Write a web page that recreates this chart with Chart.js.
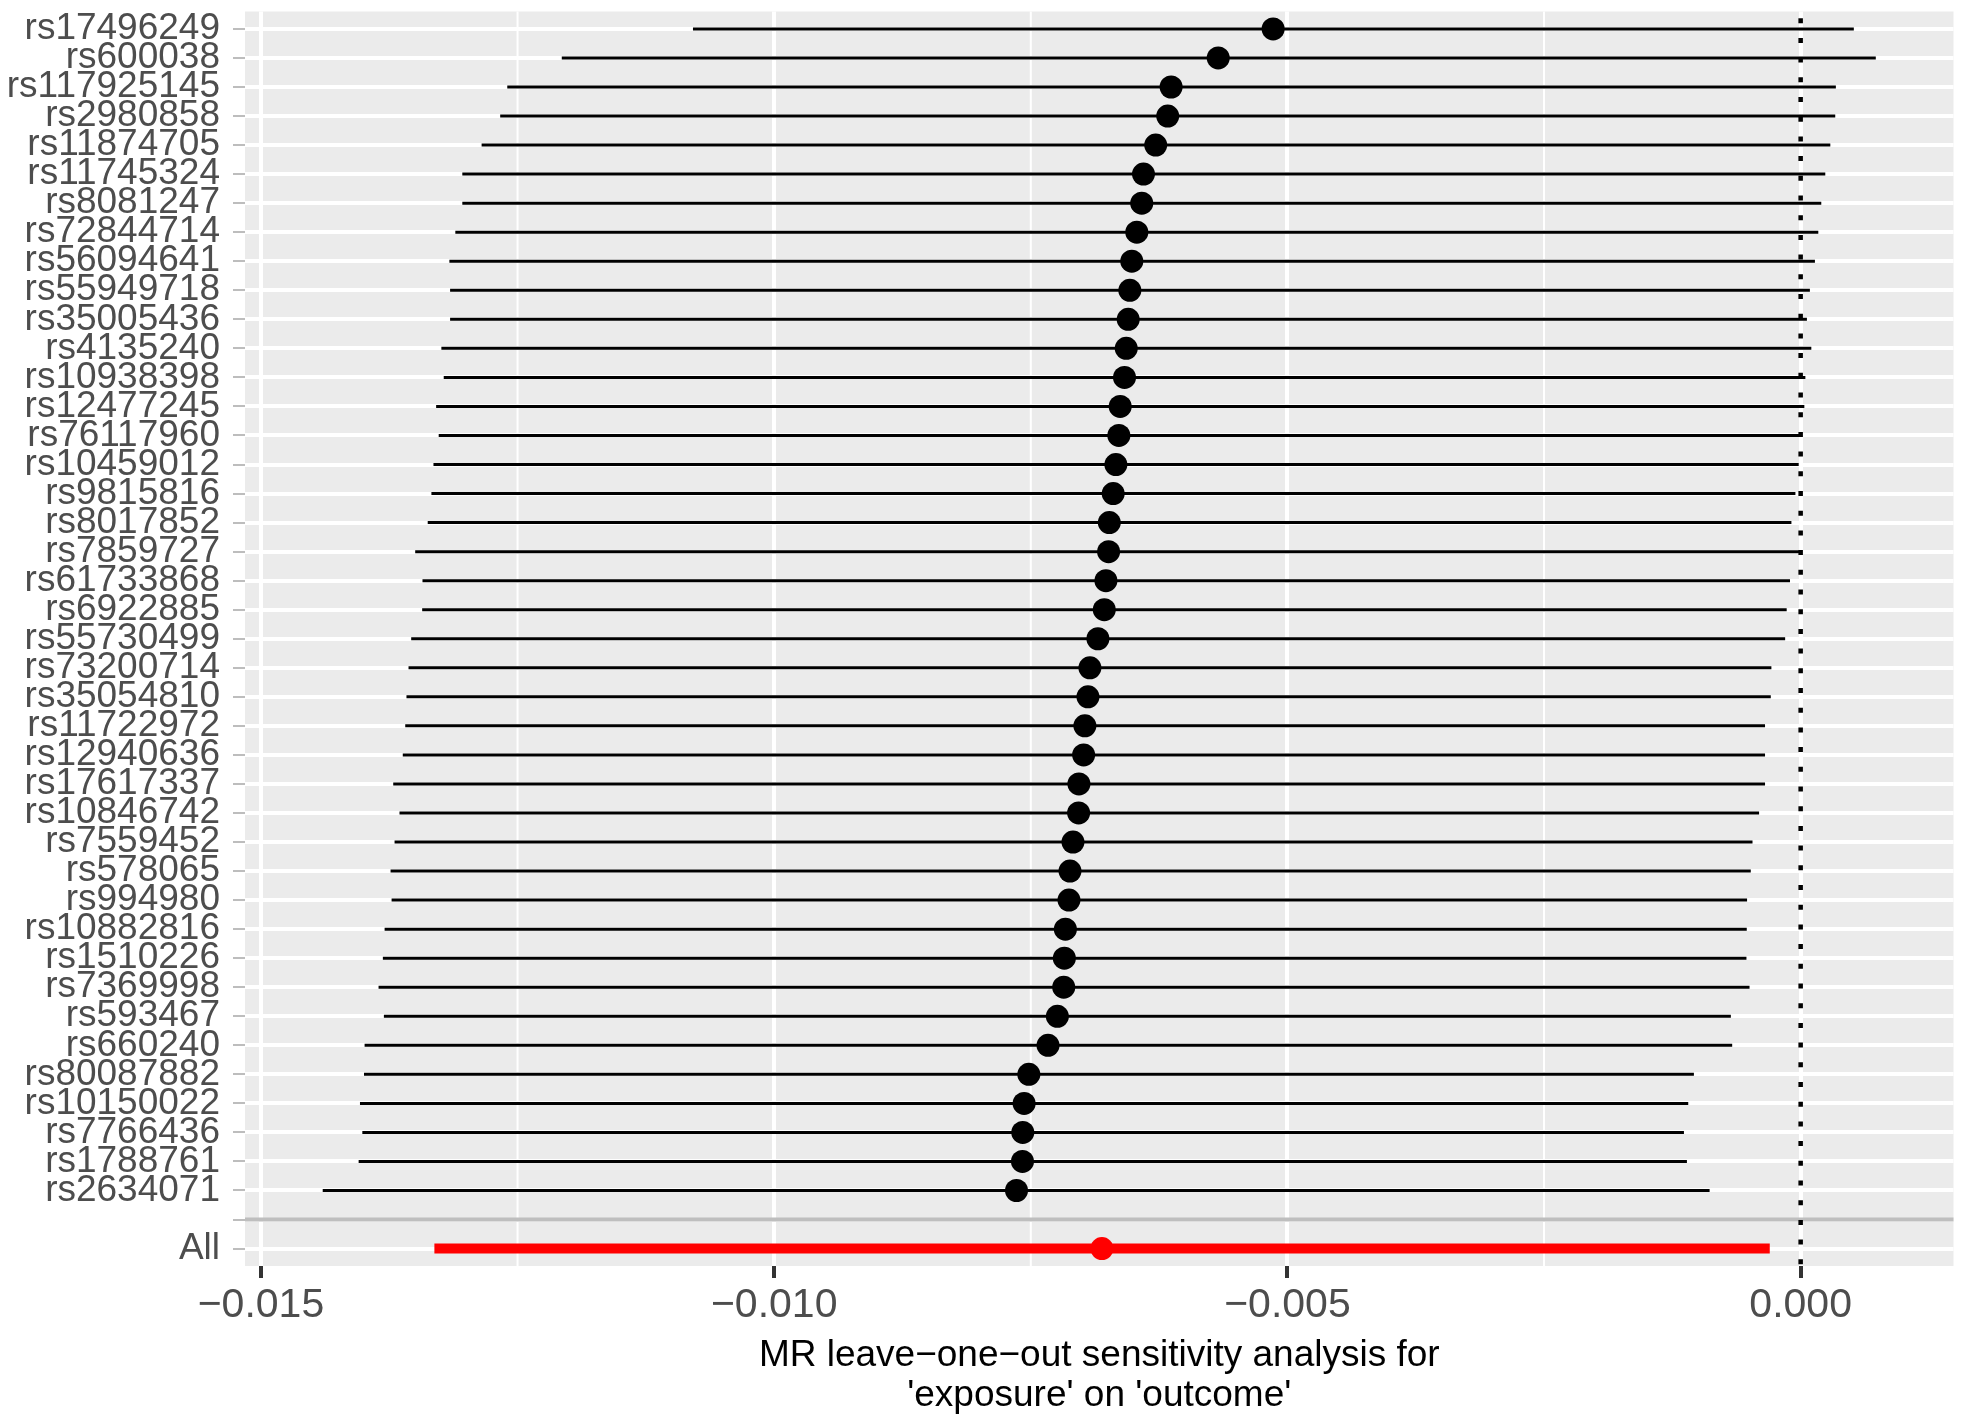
<!DOCTYPE html>
<html>
<head>
<meta charset="utf-8">
<script src="https://cdn.jsdelivr.net/npm/chart.js@4.4.1/dist/chart.umd.min.js"></script>
<style>
html, body { margin: 0; padding: 0; background: #ffffff; }
#wrap { width: 1965px; height: 1423px; }
</style>
</head>
<body>
<div id="wrap"><canvas id="myChart" width="1965" height="1423"></canvas></div>
<script>
// leave-one-out results, top row first
var snps = ["rs17496249", "rs600038", "rs117925145", "rs2980858", "rs11874705", "rs11745324", "rs8081247",
    "rs72844714", "rs56094641", "rs55949718", "rs35005436", "rs4135240", "rs10938398", "rs12477245",
    "rs76117960", "rs10459012", "rs9815816", "rs8017852", "rs7859727", "rs61733868", "rs6922885",
    "rs55730499", "rs73200714", "rs35054810", "rs11722972", "rs12940636", "rs17617337", "rs10846742",
    "rs7559452", "rs578065", "rs994980", "rs10882816", "rs1510226", "rs7369998", "rs593467", "rs660240",
    "rs80087882", "rs10150022", "rs7766436", "rs1788761", "rs2634071"];
var estimates = [-0.005139, -0.005674, -0.006133, -0.006166, -0.006283, -0.006402, -0.006419, -0.006467,
    -0.006516, -0.006535, -0.006551, -0.006570, -0.006587, -0.006629, -0.006642, -0.006671, -0.006697,
    -0.006735, -0.006742, -0.006768, -0.006784, -0.006846, -0.006924, -0.006943, -0.006973, -0.006985,
    -0.007031, -0.007034, -0.007089, -0.007118, -0.007128, -0.007163, -0.007173, -0.007179, -0.007241,
    -0.007332, -0.007519, -0.007565, -0.007578, -0.007581, -0.007639];
var lower = [-0.010791, -0.012069, -0.012600, -0.012669, -0.012850, -0.013038, -0.013038, -0.013106,
    -0.013164, -0.013157, -0.013157, -0.013242, -0.013219, -0.013293, -0.013268, -0.013319, -0.013339,
    -0.013375, -0.013497, -0.013426, -0.013429, -0.013536, -0.013562, -0.013582, -0.013594, -0.013618,
    -0.013711, -0.013650, -0.013698, -0.013737, -0.013727, -0.013795, -0.013812, -0.013854, -0.013802,
    -0.013990, -0.013996, -0.014035, -0.014012, -0.014048, -0.014398];
var upper = [0.000518, 0.000732, 0.000343, 0.000337, 0.000289, 0.000240, 0.000201, 0.000172,
    0.000139, 0.000090, 0.000061, 0.000104, 0.000046, 0.000036, 0.000010, -0.000019, -0.000051,
    -0.000090, 0.000010, -0.000104, -0.000136, -0.000151, -0.000285, -0.000291, -0.000347, -0.000347,
    -0.000347, -0.000405, -0.000469, -0.000486, -0.000522, -0.000525, -0.000528, -0.000498, -0.000680,
    -0.000667, -0.001040, -0.001095, -0.001137, -0.001108, -0.000887];
var allEstimate = -0.006807, allLower = -0.013310, allUpper = -0.000301;

var rowLabels = snps.concat(["", "All"]);
var blankRow = snps.length;
var allRow = snps.length + 1;
var xTicks = [-0.015, -0.010, -0.005, 0.000];
var xMinor = [-0.0125, -0.0075, -0.0025];
var xMin = -0.015155, xMax = 0.001489;
var xTitle = ["MR leave\u2212one\u2212out sensitivity analysis for", "'exposure' on 'outcome'"];

var FONT = '"Liberation Sans", Arial, Helvetica, sans-serif';

var barData = [];
snps.forEach(function (s, i) {
    barData.push({x: lower[i], y: i}, {x: upper[i], y: i}, {x: NaN, y: NaN});
});
var pointData = estimates.map(function (v, i) { return {x: v, y: i}; });

// ggplot-like panel: grey background, minor grid, grey hline, dotted zero line
var ggPanel = {
    id: 'ggPanel',
    beforeDraw: function (chart) {
        var c = chart.ctx, a = chart.chartArea, xs = chart.scales.x;
        c.save();
        c.fillStyle = '#EBEBEB';
        c.fillRect(a.left, a.top, a.right - a.left, a.bottom - a.top);
        c.strokeStyle = '#ffffff';
        c.lineWidth = 2;
        xMinor.forEach(function (v) {
            var px = xs.getPixelForValue(v);
            c.beginPath(); c.moveTo(px, a.top); c.lineTo(px, a.bottom); c.stroke();
        });
        c.restore();
    },
    beforeDatasetsDraw: function (chart) {
        var c = chart.ctx, a = chart.chartArea, xs = chart.scales.x, ys = chart.scales.y;
        c.save();
        var py = ys.getPixelForValue(blankRow);
        c.strokeStyle = '#BEBEBE';
        c.lineWidth = 4;
        c.beginPath(); c.moveTo(a.left, py); c.lineTo(a.right, py); c.stroke();
        var px = xs.getPixelForValue(0);
        c.strokeStyle = '#000000';
        c.lineWidth = 4.5;
        c.setLineDash([5, 14.7]);
        c.lineDashOffset = 13;
        c.beginPath(); c.moveTo(px, a.top); c.lineTo(px, a.bottom); c.stroke();
        c.restore();
    }
};

var ctx = document.getElementById("myChart");
var myChart = new Chart(ctx, {
    type: 'scatter',
    data: {
        datasets: [{
            label: "All",
            data: [{x: allEstimate, y: allRow}],
            backgroundColor: "#FF0000",
            pointRadius: 11.5,
            pointBorderWidth: 0,
            order: 0
        }, {
            label: "estimate",
            data: pointData,
            backgroundColor: "#000000",
            pointRadius: 11.5,
            pointBorderWidth: 0,
            order: 1
        }, {
            label: "All CI",
            data: [{x: allLower, y: allRow}, {x: allUpper, y: allRow}],
            showLine: true,
            borderColor: "#FF0000",
            borderWidth: 10,
            borderCapStyle: 'butt',
            pointRadius: 0,
            order: 2
        }, {
            label: "CI",
            data: barData,
            showLine: true,
            spanGaps: false,
            borderColor: "#000000",
            borderWidth: 3,
            borderCapStyle: 'butt',
            pointRadius: 0,
            order: 3
        }]
    },
    options: {
        responsive: false,
        animation: false,
        events: [],
        layout: { padding: { top: 7.5, right: 8, left: 0, bottom: 0 } },
        plugins: {
            legend: { display: false },
            tooltip: { enabled: false }
        },
        scales: {
            x: {
                type: 'linear',
                min: xMin,
                max: xMax,
                afterBuildTicks: function (s) { s.ticks = xTicks.map(function (v) { return {value: v}; }); },
                afterFit: function (s) { s.height = 157; s.paddingLeft = 0; s.paddingRight = 0; },
                border: { display: false },
                grid: { color: '#ffffff', lineWidth: 4, tickColor: '#333333', tickWidth: 4, tickLength: 12 },
                ticks: {
                    padding: 7,
                    color: '#4D4D4D',
                    font: { family: FONT, size: 41, lineHeight: 1 },
                    maxRotation: 0,
                    callback: function (v) { return (v < 0 ? '\u2212' : '') + Math.abs(v).toFixed(3); }
                },
                title: {
                    display: true,
                    text: xTitle,
                    color: '#000000',
                    font: { family: FONT, size: 37, lineHeight: 40 / 37 },
                    padding: { top: 0, bottom: 7 }
                }
            },
            y: {
                type: 'linear',
                reverse: true,
                min: -0.6,
                max: rowLabels.length - 1 + 0.6,
                afterBuildTicks: function (s) { s.ticks = rowLabels.map(function (l, i) { return {value: i}; }); },
                afterFit: function (s) { s.width = 245; s.paddingTop = 0; s.paddingBottom = 0; },
                border: { display: false },
                grid: { color: '#ffffff', lineWidth: 4, tickColor: '#BDBDBD', tickWidth: 2, tickLength: 12 },
                ticks: {
                    autoSkip: false,
                    padding: 13,
                    color: '#4D4D4D',
                    font: { family: FONT, size: 37, lineHeight: 1 },
                    callback: function (v, i) { return rowLabels[i]; }
                }
            }
        }
    },
    plugins: [ggPanel]
});
</script>
</body>
</html>
